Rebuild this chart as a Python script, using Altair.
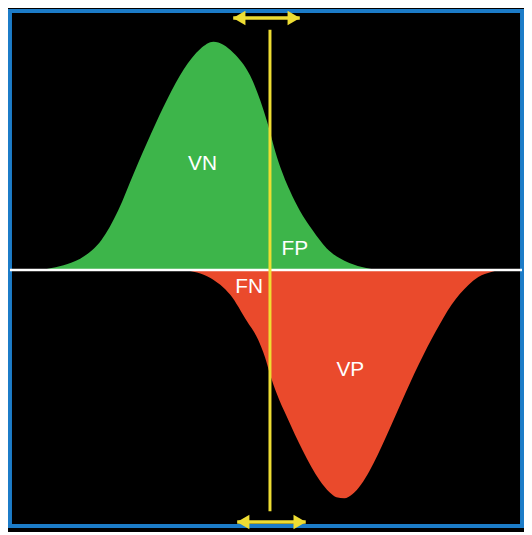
import altair as alt
import pandas as pd

# Score axis (horizontal) and curve height (vertical)
green_x = [40, 50, 66, 83, 100, 117, 133, 150, 167, 183, 200, 213, 233, 250, 267, 277, 290, 300, 313, 327, 340, 350, 367, 380]
green_h = [0, 2, 6, 14, 30, 60, 98, 137, 173, 202, 223, 230, 219, 196, 150, 114, 80, 60, 40, 22, 12, 7, 2, 0]

red_x = [183, 210, 230, 247, 258, 265, 270, 277, 287, 303, 320, 330, 337, 345, 353, 362, 370, 387, 403, 420, 437, 453, 470, 480, 493, 500]
red_h = [0, 8, 25, 52, 70, 88, 105, 125, 148, 182, 212, 224, 229, 230, 226, 216, 203, 168, 132, 95, 62, 35, 15, 7, 2, 0]

threshold = 270
label_text = ["VN", "FP", "FN", "VP"]
label_x = [202, 295, 249, 351]
label_y = [107, 21, -17, -101]

GREEN = "#3db54a"
RED = "#ea4a2c"
YELLOW = "#eedd33"
BLUE = "#1c7cc8"

gdf = pd.DataFrame({"x": green_x, "h": green_h})
rdf = pd.DataFrame({"x": red_x, "h": [-v for v in red_h]})
ldf = pd.DataFrame({"t": label_text, "x": label_x, "y": label_y})

xs = alt.Scale(domain=[8, 524], nice=False, zero=False)
ys = alt.Scale(domain=[-258, 261], nice=False, zero=False)

green = alt.Chart(gdf).mark_area(color=GREEN, interpolate="monotone").encode(
    x=alt.X("x:Q", scale=xs, axis=None),
    y=alt.Y("h:Q", scale=ys, axis=None),
    y2=alt.datum(0),
)
red = alt.Chart(rdf).mark_area(color=RED, interpolate="monotone").encode(
    x=alt.X("x:Q", scale=xs, axis=None),
    y=alt.Y("h:Q", scale=ys, axis=None),
    y2=alt.datum(0),
)

base_line = alt.Chart(pd.DataFrame({"y": [0]})).mark_rule(color="white", strokeWidth=2.5).encode(
    y=alt.Y("y:Q", scale=ys, axis=None),
)

thr = alt.Chart(pd.DataFrame({"x": [threshold], "y": [242], "y2": [-243]})).mark_rule(
    color=YELLOW, strokeWidth=3
).encode(
    x=alt.X("x:Q", scale=xs, axis=None),
    y=alt.Y("y:Q", scale=ys, axis=None),
    y2="y2:Q",
)

arrows = pd.DataFrame({"x1": [233, 237], "x2": [300, 306], "y": [254, -254]})
shafts = alt.Chart(arrows).mark_rule(color=YELLOW, strokeWidth=3.5).encode(
    x=alt.X("x1:Q", scale=xs, axis=None),
    x2="x2:Q",
    y=alt.Y("y:Q", scale=ys, axis=None),
)
left_heads = alt.Chart(arrows).transform_calculate(hx="datum.x1 + 6").mark_point(
    shape="triangle-left", filled=True, color=YELLOW, size=210, opacity=1
).encode(
    x=alt.X("hx:Q", scale=xs, axis=None),
    y=alt.Y("y:Q", scale=ys, axis=None),
)
right_heads = alt.Chart(arrows).transform_calculate(hx="datum.x2 - 6").mark_point(
    shape="triangle-right", filled=True, color=YELLOW, size=210, opacity=1
).encode(
    x=alt.X("hx:Q", scale=xs, axis=None),
    y=alt.Y("y:Q", scale=ys, axis=None),
)

labels = alt.Chart(ldf).mark_text(
    color="white", fontSize=21, font="Liberation Sans", baseline="middle", align="center"
).encode(
    x=alt.X("x:Q", scale=xs, axis=None),
    y=alt.Y("y:Q", scale=ys, axis=None),
    text="t:N",
)

chart = alt.layer(green, red, base_line, thr, shafts, left_heads, right_heads, labels).properties(
    width=516, height=519, background="black", padding=0
).configure_view(fill="black", stroke=BLUE, strokeWidth=4)

chart.save("out.html", embed_options={"renderer": "svg", "actions": False})
